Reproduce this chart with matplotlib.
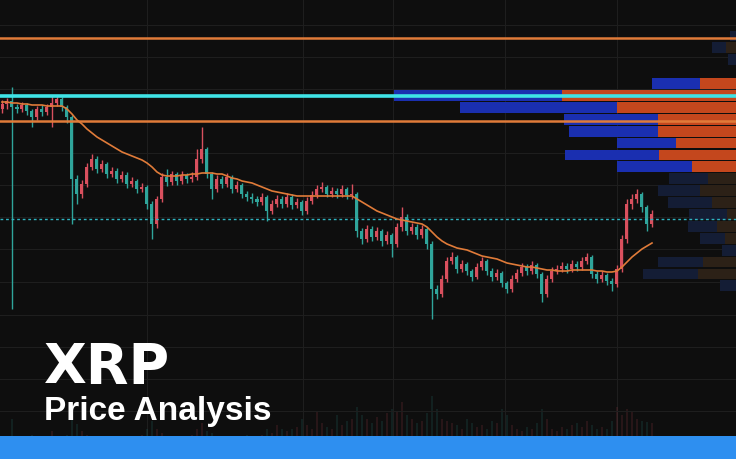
import numpy as np
import matplotlib
matplotlib.use("Agg")
import matplotlib.pyplot as plt
from matplotlib.patches import Rectangle

# candle closes (XRP/USDT)
close = [0.595, 0.598, 0.592, 0.590, 0.594, 0.588, 0.582, 0.590, 0.587, 0.592,
         0.596, 0.600, 0.592, 0.582, 0.520, 0.505, 0.515, 0.532, 0.540, 0.530,
         0.535, 0.525, 0.528, 0.520, 0.524, 0.515, 0.518, 0.510, 0.512, 0.495,
         0.475, 0.500, 0.522, 0.517, 0.525, 0.518, 0.524, 0.520, 0.522, 0.540,
         0.550, 0.525, 0.510, 0.520, 0.515, 0.522, 0.510, 0.514, 0.505, 0.502,
         0.500, 0.497, 0.502, 0.488, 0.495, 0.500, 0.495, 0.502, 0.494, 0.497,
         0.488, 0.498, 0.504, 0.510, 0.512, 0.505, 0.508, 0.505, 0.510, 0.504,
         0.505, 0.468, 0.460, 0.470, 0.462, 0.468, 0.458, 0.464, 0.455, 0.472,
         0.482, 0.468, 0.472, 0.464, 0.470, 0.455, 0.410, 0.405, 0.420, 0.438,
         0.442, 0.430, 0.435, 0.428, 0.422, 0.432, 0.438, 0.428, 0.422, 0.426,
         0.416, 0.410, 0.420, 0.426, 0.432, 0.428, 0.434, 0.425, 0.405, 0.420,
         0.428, 0.430, 0.433, 0.430, 0.435, 0.432, 0.438, 0.442, 0.425, 0.420,
         0.424, 0.418, 0.415, 0.430, 0.460, 0.495, 0.500, 0.505, 0.492, 0.475,
         0.485]
first_open = 0.590
high = [0.599, 0.601, 0.612, 0.595, 0.597, 0.596, 0.590, 0.593, 0.594, 0.595,
        0.603, 0.603, 0.602, 0.594, 0.584, 0.524, 0.519, 0.536, 0.545, 0.543,
        0.539, 0.537, 0.532, 0.531, 0.528, 0.527, 0.522, 0.520, 0.516, 0.514,
        0.498, 0.503, 0.526, 0.530, 0.528, 0.527, 0.528, 0.526, 0.527, 0.550,
        0.572, 0.552, 0.527, 0.524, 0.523, 0.526, 0.524, 0.518, 0.516, 0.508,
        0.506, 0.503, 0.506, 0.504, 0.499, 0.504, 0.503, 0.506, 0.505, 0.501,
        0.499, 0.502, 0.508, 0.514, 0.517, 0.514, 0.512, 0.511, 0.514, 0.512,
        0.515, 0.507, 0.471, 0.474, 0.473, 0.472, 0.470, 0.468, 0.466, 0.476,
        0.492, 0.485, 0.476, 0.475, 0.474, 0.472, 0.458, 0.414, 0.424, 0.442,
        0.447, 0.444, 0.439, 0.437, 0.430, 0.436, 0.442, 0.440, 0.431, 0.430,
        0.428, 0.418, 0.424, 0.430, 0.436, 0.435, 0.438, 0.436, 0.427, 0.424,
        0.432, 0.434, 0.437, 0.436, 0.439, 0.438, 0.442, 0.446, 0.444, 0.428,
        0.428, 0.426, 0.421, 0.434, 0.464, 0.500, 0.505, 0.510, 0.507, 0.494,
        0.489]
low = [0.586, 0.590, 0.390, 0.586, 0.587, 0.584, 0.572, 0.579, 0.583, 0.584,
       0.572, 0.593, 0.588, 0.576, 0.475, 0.495, 0.501, 0.512, 0.529, 0.526,
       0.527, 0.521, 0.522, 0.516, 0.517, 0.511, 0.512, 0.506, 0.507, 0.490,
       0.460, 0.471, 0.497, 0.513, 0.514, 0.514, 0.515, 0.516, 0.517, 0.519,
       0.536, 0.521, 0.500, 0.507, 0.511, 0.512, 0.506, 0.507, 0.501, 0.498,
       0.496, 0.493, 0.494, 0.478, 0.485, 0.492, 0.491, 0.492, 0.490, 0.491,
       0.484, 0.485, 0.495, 0.501, 0.507, 0.502, 0.502, 0.501, 0.502, 0.500,
       0.500, 0.462, 0.455, 0.457, 0.458, 0.459, 0.453, 0.455, 0.442, 0.452,
       0.468, 0.464, 0.465, 0.460, 0.461, 0.450, 0.380, 0.400, 0.402, 0.417,
       0.435, 0.426, 0.427, 0.424, 0.418, 0.420, 0.429, 0.424, 0.418, 0.419,
       0.412, 0.406, 0.407, 0.417, 0.423, 0.424, 0.425, 0.421, 0.397, 0.402,
       0.417, 0.425, 0.427, 0.426, 0.427, 0.428, 0.429, 0.435, 0.421, 0.416,
       0.417, 0.414, 0.408, 0.412, 0.427, 0.456, 0.490, 0.496, 0.487, 0.468,
       0.472]
ema = [0.597, 0.597, 0.596, 0.596, 0.595, 0.595, 0.594, 0.594, 0.594, 0.593,
       0.593, 0.593, 0.593, 0.590, 0.585, 0.579, 0.575, 0.570, 0.566, 0.562,
       0.559, 0.556, 0.553, 0.550, 0.547, 0.545, 0.543, 0.541, 0.539, 0.536,
       0.532, 0.527, 0.524, 0.523, 0.523, 0.523, 0.524, 0.524, 0.525, 0.525,
       0.526, 0.526, 0.526, 0.525, 0.525, 0.523, 0.521, 0.520, 0.518, 0.517,
       0.516, 0.514, 0.512, 0.510, 0.508, 0.507, 0.506, 0.505, 0.504, 0.503,
       0.503, 0.503, 0.503, 0.503, 0.503, 0.503, 0.503, 0.503, 0.503, 0.503,
       0.503, 0.500, 0.497, 0.494, 0.491, 0.488, 0.486, 0.484, 0.482, 0.480,
       0.479, 0.478, 0.477, 0.476, 0.475, 0.472, 0.467, 0.462, 0.458, 0.455,
       0.453, 0.451, 0.450, 0.449, 0.447, 0.445, 0.443, 0.442, 0.441, 0.440,
       0.438, 0.436, 0.435, 0.434, 0.433, 0.432, 0.432, 0.431, 0.430, 0.429,
       0.429, 0.428, 0.428, 0.428, 0.429, 0.429, 0.429, 0.429, 0.429, 0.428,
       0.428, 0.427, 0.427, 0.428, 0.432, 0.437, 0.442, 0.446, 0.450, 0.453,
       0.456]
volume = [20, 18, 40, 22, 18, 20, 24, 18, 20, 22,
          28, 22, 20, 24, 45, 35, 28, 24, 22, 20,
          18, 20, 18, 22, 20, 18, 20, 22, 24, 30,
          38, 30, 26, 22, 20, 18, 20, 22, 24, 30,
          36, 28, 26, 22, 20, 22, 18, 20, 22, 24,
          22, 20, 24, 30, 26, 34, 30, 28, 30, 32,
          40, 34, 30, 48, 36, 32, 30, 44, 34, 38,
          40, 52, 44, 40, 36, 42, 38, 46, 50, 48,
          57, 44, 40, 36, 38, 46, 63, 50, 40, 38,
          36, 34, 30, 40, 36, 32, 34, 30, 38, 36,
          50, 44, 34, 30, 28, 32, 30, 36, 50, 40,
          30, 28, 32, 30, 34, 36, 32, 38, 34, 30,
          32, 30, 38, 52, 44, 50, 48, 40, 38, 37,
          36]

# volume profile rows (price level, buy volume, sell volume)
vp_price = [0.6631, 0.6512, 0.6393, 0.6155, 0.6036, 0.5917, 0.5798, 0.5679,
            0.5560, 0.5441, 0.5322, 0.5203, 0.5084, 0.4965, 0.4846, 0.4727,
            0.4608, 0.4489, 0.4370, 0.4251, 0.4132]
vp_buy = [6, 14, 8, 48, 168, 157, 94, 89, 59, 94, 75,
          39, 42, 44, 38, 29, 25, 14, 45, 55, 16]
vp_sell = [0, 10, 0, 36, 174, 119, 78, 78, 60, 77, 44,
           28, 36, 24, 9, 19, 11, 0, 33, 38, 0]
vp_strong = 8  # rows from index 3 to 10 are in the value area

resistance = [0.661, 0.578]
key_level = 0.603
current = 0.480

grid_y = [0.674, 0.642, 0.610, 0.578, 0.546, 0.514, 0.482, 0.450,
          0.417, 0.384, 0.352, 0.320, 0.288, 0.256]
grid_x = [29, 60.2, 78.2, 100.6, 123]

BG = "#0e0e0e"
UP = "#d9505e"
DOWN = "#2fa59b"
ORANGE = "#e07b39"
GRID = "#1e1e1e"

fig = plt.figure(figsize=(7.36, 4.6), dpi=100, facecolor=BG)

ax_vol = fig.add_axes([0, 0, 1, 1], facecolor=BG)
ax_vp = fig.add_axes([0, 0, 1, 1], facecolor="none")
ax = fig.add_axes([0, 0, 1, 1], facecolor="none")
for a in (ax_vol, ax_vp, ax):
    a.set_axis_off()

idx = np.arange(len(close))
opens = np.array([first_open] + close[:-1])
closes = np.array(close)
colors = [UP if c >= o else DOWN for o, c in zip(opens, closes)]

# vertical grid + volume at the bottom
ax_vol.set_xlim(-0.4, 146.8)
ax_vol.set_ylim(0, 460)
for gx in grid_x:
    ax_vol.axvline(gx, color=GRID, lw=0.8, zorder=0)
ax_vol.bar(idx, volume, width=0.35, color=colors, alpha=0.13, zorder=1)

# volume profile from the right edge
ax_vp.set_ylim(0.24, 0.70)
ax_vp.set_xlim(736, 0)
for gy in grid_y:
    ax_vp.axhline(gy, color=GRID, lw=0.8, zorder=0)
h = 0.0108
for k, (p, b, s) in enumerate(zip(vp_price, vp_buy, vp_sell)):
    bright = 3 <= k < 3 + vp_strong
    cb = "#1a2fb0" if bright else "#141d35"
    cs = "#c4471d" if bright else "#2c2117"
    ax_vp.barh(p, s, height=h, left=0, color=cs, linewidth=0, zorder=2)
    ax_vp.barh(p, b, height=h, left=s, color=cb, linewidth=0, zorder=2)

# main price chart
ax.set_xlim(-0.4, 146.8)
ax.set_ylim(0.24, 0.70)
ax.vlines(idx, low, high, colors=colors, lw=1.0, zorder=3)
body = np.maximum(np.abs(closes - opens), 0.0015)
ax.bar(idx, body, bottom=np.minimum(opens, closes), width=0.6,
       color=colors, linewidth=0, zorder=3)

for r in resistance:
    ax.axhline(r, color=ORANGE, lw=1.8, zorder=4)
ax.axhline(key_level, color="#3fe3e6", lw=2.6, zorder=4)
ax.axhline(current, color="#2fb3c0", lw=1.0, ls=(0, (2, 2)), zorder=4)
ax.plot(idx, ema, color=ORANGE, lw=1.2, zorder=5)

# bottom band and title
fig.patches.append(Rectangle((0, 0), 1, 23 / 460, transform=fig.transFigure,
                             facecolor="#2e8ff0", edgecolor="none", zorder=10))
fig.text(44 / 736, 77 / 460, "XRP", color="white", fontsize=40,
         fontweight="bold", family="DejaVu Sans", va="baseline", zorder=11)
fig.text(44 / 736, 40 / 460, "Price Analysis", color="white", fontsize=24,
         fontweight="bold", family="Liberation Sans", va="baseline", zorder=11)

fig.savefig("out.png", dpi=100, facecolor=BG)
